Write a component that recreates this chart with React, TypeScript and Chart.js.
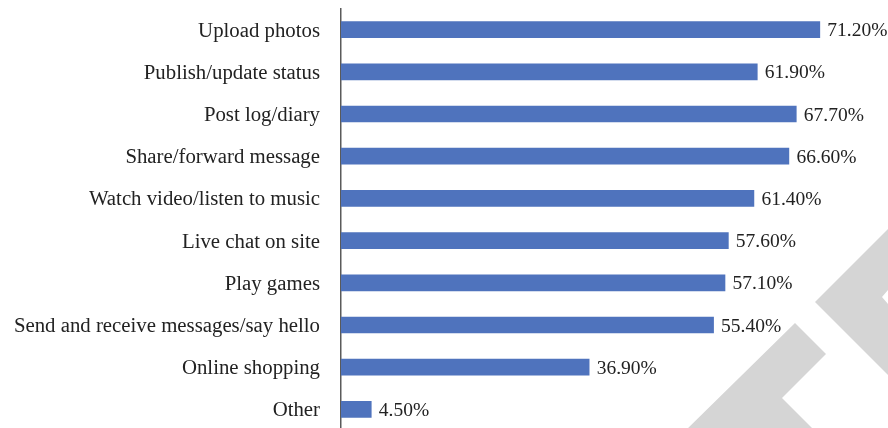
import React, { useEffect, useRef } from "react";
import { Chart, registerables } from "chart.js";

Chart.register(...registerables);

const categories = [
  "Upload photos",
  "Publish/update status",
  "Post log/diary",
  "Share/forward message",
  "Watch video/listen to music",
  "Live chat on site",
  "Play games",
  "Send and receive messages/say hello",
  "Online shopping",
  "Other",
];
const values = [71.2, 61.9, 67.7, 66.6, 61.4, 57.6, 57.1, 55.4, 36.9, 4.5];
const valueLabels = values.map((v) => v.toFixed(2) + "%");

const FONT = "'Liberation Serif', 'Times New Roman', serif";

const watermarkPlugin = {
  id: "watermark",
  beforeDraw(chart: any) {
    const ctx = chart.ctx;
    ctx.save();
    ctx.fillStyle = "#d5d5d5";
    ctx.beginPath();
    ctx.moveTo(684, 432);
    ctx.lineTo(795, 323);
    ctx.lineTo(826, 354);
    ctx.lineTo(782, 398);
    ctx.lineTo(816, 432);
    ctx.closePath();
    ctx.fill();
    ctx.beginPath();
    ctx.moveTo(888, 229);
    ctx.lineTo(815, 302);
    ctx.lineTo(888, 375);
    ctx.lineTo(888, 304);
    ctx.lineTo(882, 297);
    ctx.lineTo(888, 290);
    ctx.closePath();
    ctx.fill();
    ctx.restore();
  },
};

const valueLabelPlugin = {
  id: "valueLabels",
  afterDatasetsDraw(chart: any) {
    const ctx = chart.ctx;
    const meta = chart.getDatasetMeta(0);
    ctx.save();
    ctx.font = `19.5px ${FONT}`;
    ctx.fillStyle = "#222222";
    ctx.textAlign = "left";
    ctx.textBaseline = "middle";
    meta.data.forEach((el: any, i: number) => {
      ctx.fillText(valueLabels[i], el.x + 7.5, el.y + 1.5);
    });
    ctx.restore();
  },
};

export default function App() {
  const ref = useRef<HTMLCanvasElement | null>(null);
  useEffect(() => {
    if (!ref.current) return;
    const chart = new Chart(ref.current, {
      type: "bar",
      data: {
        labels: categories,
        datasets: [
          {
            data: values,
            backgroundColor: "#4f73bd",
            barThickness: 16,
          },
        ],
      },
      options: {
        indexAxis: "y",
        animation: false,
        responsive: false,
        devicePixelRatio: 1,
        layout: { padding: { top: 8.5, right: 9, bottom: 1.5, left: 0 } },
        plugins: {
          legend: { display: false },
          tooltip: { enabled: false },
        },
        scales: {
          x: { display: false, min: 0, max: 80 },
          y: {
            afterFit: (scale: any) => {
              scale.width = 341;
              scale.paddingTop = 0;
              scale.paddingBottom = 0;
            },
            grid: { display: false, drawTicks: false },
            border: { display: true, color: "#5a5a5a", width: 1.5 },
            ticks: {
              padding: 21,
              labelOffset: 1.5,
              color: "#222222",
              font: { family: FONT, size: 20.8 },
            },
          },
        },
      },
      plugins: [watermarkPlugin, valueLabelPlugin],
    });
    return () => chart.destroy();
  }, []);
  return (
    <div style={{ position: "fixed", left: 0, top: 0, width: 888, height: 432, background: "#fff" }}>
      <canvas ref={ref} width={888} height={432} style={{ display: "block" }} />
    </div>
  );
}
